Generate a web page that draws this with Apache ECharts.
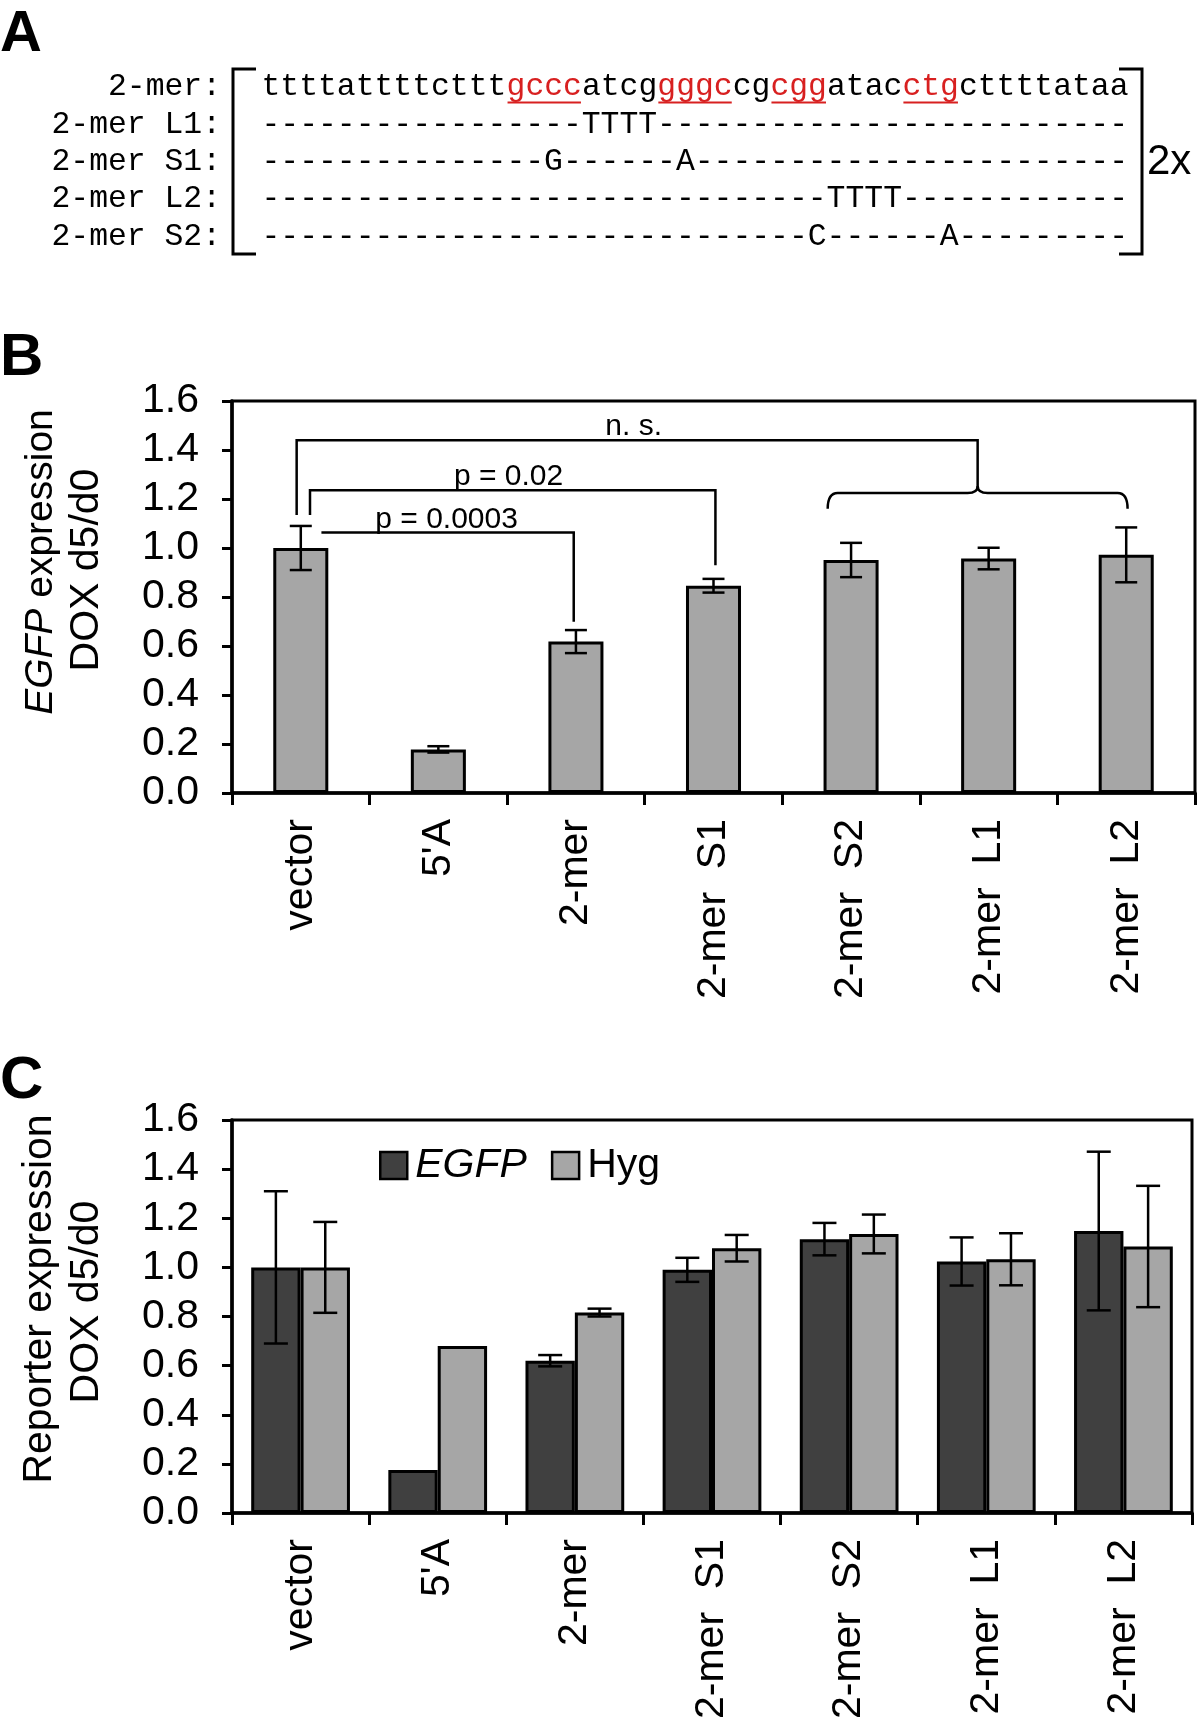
<!DOCTYPE html>
<html>
<head>
<meta charset="utf-8">
<script src="https://cdn.jsdelivr.net/npm/echarts@6/dist/echarts.min.js"></script>
<style>
  html, body { margin: 0; padding: 0; background: #fff; overflow: hidden; }
  #chart { width: 1200px; height: 1722px; }
</style>
</head>
<body>
<div id="chart"></div>
<script>
// ---------------- DATA ----------------
const categories = ['vector', "5'A", '2-mer', '2-mer  S1', '2-mer  S2', '2-mer  L1', '2-mer  L2'];
const yTickLabels = ['0.0', '0.2', '0.4', '0.6', '0.8', '1.0', '1.2', '1.4', '1.6'];

// Panel B: EGFP expression
const valuesB = [1.00, 0.178, 0.618, 0.846, 0.951, 0.957, 0.972];
const errorsB = [0.090, 0.013, 0.047, 0.028, 0.070, 0.044, 0.112];

// Panel C: reporter expression
const valuesEGFP = [1.00, 0.175, 0.620, 0.990, 1.115, 1.024, 1.148];
const errorsEGFP = [0.310, null, 0.023, 0.049, 0.066, 0.098, 0.323];
const valuesHyg  = [1.00, 0.680, 0.816, 1.078, 1.136, 1.033, 1.085];
const errorsHyg  = [0.185, null, 0.016, 0.054, 0.079, 0.106, 0.247];

// Panel B significance brackets: [xLeft, xRight, yLine, yLeftEnd, yRightEnd] (category index units)
const sigBrackets = [
  [-0.03, 4.92, 1.44, 1.135, 1.25],
  [0.067, 3.014, 1.236, 1.135, 0.930],
  [0.15, 1.984, 1.063, 1.063, 0.699]
];
const sigLabels = ['n. s.', 'p = 0.02', 'p = 0.0003'];
const sigLabelX = [2.42, 1.51, 1.06];
// brace: [left, right, y, endY], tip x
const braceSpan = [3.83, 6.01, 1.225, 1.16];
const braceTip = 4.92;

// Panel A: sequences
const seqRowLabels = ['2-mer:', '2-mer L1:', '2-mer S1:', '2-mer L2:', '2-mer S2:'];
const seqSegments = [
  ['ttttattttcttt', false], ['gccc', true], ['atcg', false], ['gggc', true],
  ['cg', false], ['cgg', true], ['atac', false], ['ctg', true], ['cttttataa', false]
];
const mutantRows = [
  '-'.repeat(17) + 'TTTT' + '-'.repeat(25),
  '-'.repeat(15) + 'G' + '-'.repeat(6) + 'A' + '-'.repeat(23),
  '-'.repeat(30) + 'TTTT' + '-'.repeat(12),
  '-'.repeat(29) + 'C' + '-'.repeat(6) + 'A' + '-'.repeat(9)
];

// ---------------- STYLE ----------------
const SANS = "'Liberation Sans', Arial, Helvetica, sans-serif";
const MONO = "'Liberation Mono', 'Courier New', monospace";
const BAR_B = 0.40;
const BAR_C = 0.36;
const RED = '#d82020';

const chart = echarts.init(document.getElementById('chart'), null, { renderer: 'canvas' });

function catAxis(gridIndex) {
  return {
    type: 'category', gridIndex: gridIndex, data: categories,
    axisLine: { show: true, onZero: false, lineStyle: { color: '#000', width: 3.5 } },
    axisTick: { show: true, interval: 0, length: 12, lineStyle: { color: '#000', width: 3 } },
    axisLabel: { interval: 0, rotate: 90, margin: 26, fontSize: 41, color: '#000', fontFamily: SANS },
    splitLine: { show: false }
  };
}
function valAxis(gridIndex) {
  return {
    type: 'value', gridIndex: gridIndex, min: 0, max: 1.6, interval: 0.2,
    axisLine: { show: true, onZero: false, lineStyle: { color: '#000', width: 3.5 } },
    axisTick: { show: true, length: 10, lineStyle: { color: '#000', width: 3 } },
    axisLabel: { margin: 33, fontSize: 41, color: '#000', fontFamily: SANS,
      formatter: v => yTickLabels[Math.round(v / 0.2)] },
    splitLine: { show: false }
  };
}

function errRenderer(errs, offsetFrac, capHalf, lw) {
  return function (params, api) {
    const i = params.dataIndex;
    const v = api.value(1);
    const e = errs[i];
    if (e == null) return null;
    const band = api.size([1, 0])[0];
    const top = api.coord([api.value(0), v + e]);
    const bot = api.coord([api.value(0), v - e]);
    const x = top[0] + offsetFrac * band;
    const st = { stroke: '#000', lineWidth: lw };
    return {
      type: 'group',
      children: [
        { type: 'line', shape: { x1: x, y1: top[1], x2: x, y2: bot[1] }, style: st },
        { type: 'line', shape: { x1: x - capHalf, y1: top[1], x2: x + capHalf, y2: top[1] }, style: st },
        { type: 'line', shape: { x1: x - capHalf, y1: bot[1], x2: x + capHalf, y2: bot[1] }, style: st }
      ]
    };
  };
}

// ---------------- PANEL A graphics ----------------
const graphics = [];
const seqX0 = 261.5, charW = 18.85, rowY0 = 87, rowDY = 37.3, monoSize = 31.4;
seqRowLabels.forEach((lab, r) => {
  graphics.push({ type: 'text', x: 221, y: rowY0 + r * rowDY,
    style: { text: lab, font: monoSize + 'px ' + MONO, fill: '#000', align: 'right', verticalAlign: 'middle' } });
});
let pos = 0;
seqSegments.forEach(([s, site]) => {
  const x = seqX0 + pos * charW;
  graphics.push({ type: 'text', x: x, y: rowY0,
    style: { text: s, font: monoSize + 'px ' + MONO, fill: site ? RED : '#000', align: 'left', verticalAlign: 'middle' } });
  if (site) {
    graphics.push({ type: 'line', shape: { x1: x + 1, y1: 102.5, x2: x + s.length * charW - 1, y2: 102.5 },
      style: { stroke: RED, lineWidth: 2 } });
  }
  pos += s.length;
});
mutantRows.forEach((s, r) => {
  graphics.push({ type: 'text', x: seqX0, y: rowY0 + (r + 1) * rowDY,
    style: { text: s, font: monoSize + 'px ' + MONO, fill: '#000', align: 'left', verticalAlign: 'middle' } });
});
graphics.push({ type: 'polyline', shape: { points: [[256, 69], [233, 69], [233, 254], [256, 254]] },
  style: { stroke: '#000', lineWidth: 3, fill: 'none' } });
graphics.push({ type: 'polyline', shape: { points: [[1119, 69], [1142, 69], [1142, 254], [1119, 254]] },
  style: { stroke: '#000', lineWidth: 3, fill: 'none' } });
graphics.push({ type: 'text', x: 1147, y: 162,
  style: { text: '2x', font: '42px ' + SANS, fill: '#000', align: 'left', verticalAlign: 'middle' } });

// panel letters
[['A', 35, 58], ['B', 358, 60], ['C', 1081, 60]].forEach(([t, y, fs]) => {
  graphics.push({ type: 'text', x: 0, y: y,
    style: { text: t, font: 'bold ' + fs + 'px ' + SANS, fill: '#000', align: 'left', verticalAlign: 'middle' } });
});

// y-axis titles
function yTitle(text, x, y, fs) {
  graphics.push({ type: 'text', x: x, y: y, rotation: Math.PI / 2,
    style: { text: text, fontSize: fs, fontFamily: SANS, fill: '#000', align: 'center', verticalAlign: 'middle',
      rich: { i: { fontStyle: 'italic', fontSize: fs, fontFamily: SANS, fill: '#000' } } } });
}
yTitle('{i|EGFP} expression', 41, 562, 39);
yTitle('DOX d5/d0', 87, 570, 41);
yTitle('Reporter expression', 40, 1299, 41);
yTitle('DOX d5/d0', 87, 1302, 41);

// ---------------- OPTION ----------------
const option = {
  animation: false,
  backgroundColor: '#fff',
  textStyle: { fontFamily: SANS },
  grid: [
    { left: 232, top: 401, width: 963, height: 392, show: true, borderColor: '#000', borderWidth: 3, backgroundColor: 'transparent' },
    { left: 232, top: 1120, width: 960, height: 393, show: true, borderColor: '#000', borderWidth: 3, backgroundColor: 'transparent' }
  ],
  xAxis: [
    catAxis(0),
    { type: 'value', gridIndex: 0, min: -0.5, max: 6.5, show: false },
    catAxis(1)
  ],
  yAxis: [valAxis(0), valAxis(1)],
  legend: {
    data: ['EGFP', 'Hyg'], left: 379, top: 1145, orient: 'horizontal', padding: 0,
    itemWidth: 27, itemHeight: 27, itemGap: 24, icon: 'rect', selectedMode: false,
    itemStyle: { borderColor: '#000', borderWidth: 2.5 },
    formatter: n => n === 'EGFP' ? '{it|EGFP}' : n,
    textStyle: { fontSize: 41, color: '#000', fontFamily: SANS, padding: [0, 0, 0, 3],
      rich: { it: { fontStyle: 'italic', fontSize: 41, color: '#000', fontFamily: SANS } } }
  },
  series: [
    { type: 'bar', xAxisIndex: 0, yAxisIndex: 0, data: valuesB, barWidth: (BAR_B * 100) + '%',
      itemStyle: { color: '#a6a6a6', borderColor: '#000', borderWidth: 3 }, z: 2 },
    { type: 'custom', xAxisIndex: 0, yAxisIndex: 0, z: 4,
      data: valuesB.map((v, i) => [i, v]), encode: { x: 0, y: 1 },
      renderItem: errRenderer(errorsB, 0, 11, 2.5) },
    { type: 'custom', xAxisIndex: 1, yAxisIndex: 0, z: 5,
      data: sigBrackets.map(b => [b[0], b[2]]), encode: { x: 0, y: 1 },
      renderItem: function (params, api) {
        const i = params.dataIndex, b = sigBrackets[i];
        const pL = api.coord([b[0], b[2]]), pR = api.coord([b[1], b[2]]);
        const yL = api.coord([b[0], b[3]])[1], yR = api.coord([b[1], b[4]])[1];
        const pts = [];
        if (Math.abs(yL - pL[1]) > 0.5) pts.push([pL[0], yL]);
        pts.push(pL, pR);
        if (Math.abs(yR - pR[1]) > 0.5) pts.push([pR[0], yR]);
        const lp = api.coord([sigLabelX[i], b[2]]);
        return { type: 'group', children: [
          { type: 'polyline', shape: { points: pts }, style: { stroke: '#000', lineWidth: 2.5, fill: 'none' } },
          { type: 'text', x: lp[0], y: lp[1] + 2, style: { text: sigLabels[i], fontSize: 30, fontFamily: SANS,
              fill: '#000', align: 'center', verticalAlign: 'bottom' } }
        ] };
      } },
    { type: 'custom', xAxisIndex: 1, yAxisIndex: 0, z: 5,
      data: [[braceSpan[0], braceSpan[2]]], encode: { x: 0, y: 1 },
      renderItem: function (params, api) {
        const a = api.coord([braceSpan[0], braceSpan[2]]);
        const b = api.coord([braceSpan[1], braceSpan[2]]);
        const t = api.coord([braceTip, braceSpan[2]]);
        const yEnd = api.coord([braceSpan[0], braceSpan[3]])[1];
        const y = a[1], r = 10, c = 7;
        const d = 'M' + a[0] + ' ' + yEnd + ' Q' + a[0] + ' ' + y + ' ' + (a[0] + r) + ' ' + y +
          ' L' + (t[0] - r) + ' ' + y + ' Q' + t[0] + ' ' + y + ' ' + t[0] + ' ' + (y - c) +
          ' Q' + t[0] + ' ' + y + ' ' + (t[0] + r) + ' ' + y +
          ' L' + (b[0] - r) + ' ' + y + ' Q' + b[0] + ' ' + y + ' ' + b[0] + ' ' + yEnd;
        return { type: 'path', shape: { pathData: d }, style: { stroke: '#000', fill: 'none', lineWidth: 2.5 } };
      } },
    { name: 'EGFP', type: 'bar', xAxisIndex: 2, yAxisIndex: 1, data: valuesEGFP, barWidth: (BAR_C * 100) + '%', barGap: '0%',
      itemStyle: { color: '#404040', borderColor: '#000', borderWidth: 3 }, z: 2 },
    { name: 'Hyg', type: 'bar', xAxisIndex: 2, yAxisIndex: 1, data: valuesHyg, barWidth: (BAR_C * 100) + '%', barGap: '0%',
      itemStyle: { color: '#a6a6a6', borderColor: '#000', borderWidth: 3 }, z: 2 },
    { type: 'custom', xAxisIndex: 2, yAxisIndex: 1, z: 4,
      data: valuesEGFP.map((v, i) => [i, v]), encode: { x: 0, y: 1 },
      renderItem: errRenderer(errorsEGFP, -BAR_C / 2, 12, 2.5) },
    { type: 'custom', xAxisIndex: 2, yAxisIndex: 1, z: 4,
      data: valuesHyg.map((v, i) => [i, v]), encode: { x: 0, y: 1 },
      renderItem: errRenderer(errorsHyg, BAR_C / 2, 12, 2.5) }
  ],
  graphic: { elements: graphics.map(g => Object.assign({ z: 100 }, g)) }
};
chart.setOption(option);
</script>
</body>
</html>
